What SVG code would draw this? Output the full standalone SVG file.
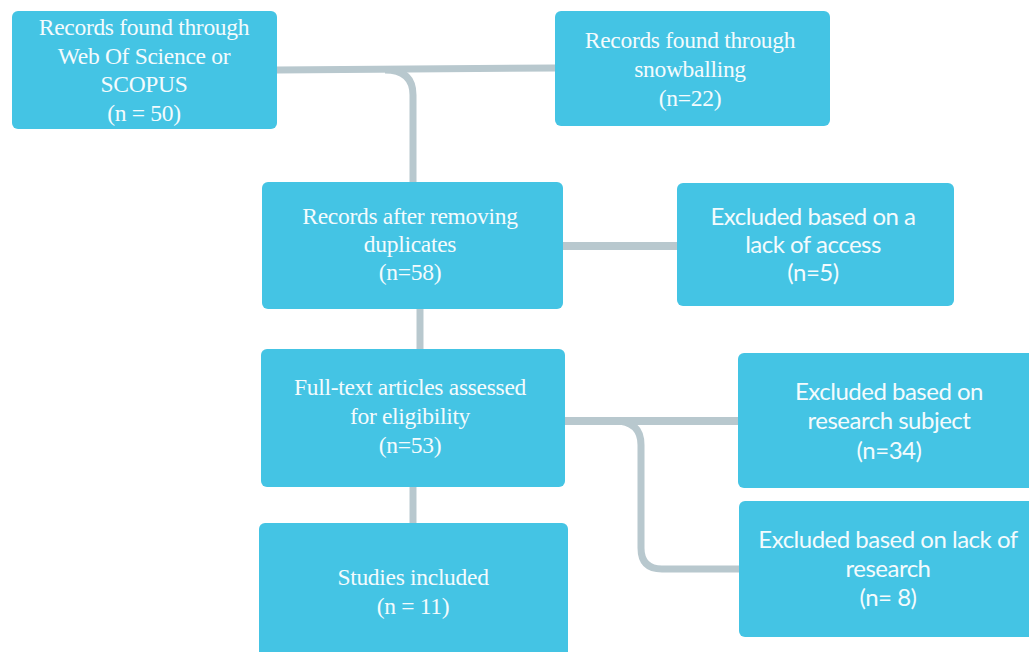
<svg xmlns="http://www.w3.org/2000/svg" width="1029" height="652" viewBox="0 0 1029 652">
<style>
.box{fill:#44c4e4;}
.s{font-family:"Liberation Serif","Times New Roman",serif;font-size:23.5px;fill:#f4fbfd;text-anchor:middle;letter-spacing:-0.3px;}
.l{font-family:Lato,"Liberation Sans",sans-serif;font-size:24px;fill:#f4fbfd;text-anchor:middle;letter-spacing:-0.5px;}
.c{fill:none;stroke:#b8c8ce;stroke-width:7;}
</style>
<rect width="1029" height="652" fill="#ffffff"/>
<g id="connectors">
<path class="c" d="M277 70 L555 68"/>
<path class="c" d="M385 70 Q413 70 413 95 L413 182"/>
<path class="c" d="M420 309 L420 349"/>
<path class="c" d="M563 246 L677 246" style="stroke-width:8"/>
<path class="c" d="M413 487 L413 523"/>
<path class="c" d="M565 421 L738 421" style="stroke-width:8"/>
<path class="c" d="M615 421 Q641 421 641 445 L641 548 Q641 569 662 569 L739 569"/>
</g>
<g id="n1"><rect class="box" x="12" y="11" width="265" height="118" rx="6"/>
<text class="s" x="144" y="35">Records found through</text>
<text class="s" x="144" y="64">Web Of Science or</text>
<text class="s" x="144" y="92">SCOPUS</text>
<text class="s" x="144" y="121">(n = 50)</text></g>
<g id="n2"><rect class="box" x="555" y="11" width="275" height="115" rx="6"/>
<text class="s" x="690" y="48">Records found through</text>
<text class="s" x="690" y="77">snowballing</text>
<text class="s" x="690" y="106">(n=22)</text></g>
<g id="n3"><rect class="box" x="262" y="182" width="301" height="127" rx="6"/>
<text class="s" x="410" y="224">Records after removing</text>
<text class="s" x="410" y="252">duplicates</text>
<text class="s" x="410" y="280">(n=58)</text></g>
<g id="n4"><rect class="box" x="677" y="183" width="277" height="123" rx="6"/>
<text class="l" x="813" y="225">Excluded based on a</text>
<text class="l" x="813" y="253">lack of access</text>
<text class="l" x="813" y="281">(n=5)</text></g>
<g id="n5"><rect class="box" x="261" y="349" width="304" height="138" rx="6"/>
<text class="s" x="410" y="395">Full-text articles assessed</text>
<text class="s" x="410" y="424">for eligibility</text>
<text class="s" x="410" y="453">(n=53)</text></g>
<g id="n6"><rect class="box" x="738" y="353" width="300" height="135" rx="6"/>
<text class="l" x="889" y="400">Excluded based on</text>
<text class="l" x="889" y="429">research subject</text>
<text class="l" x="889" y="459">(n=34)</text></g>
<g id="n7"><rect class="box" x="739" y="501" width="300" height="136" rx="6"/>
<text class="l" x="888" y="548">Excluded based on lack of</text>
<text class="l" x="888" y="577">research</text>
<text class="l" x="888" y="606">(n= 8)</text></g>
<g id="n8"><rect class="box" x="259" y="523" width="309" height="140" rx="6"/>
<text class="s" x="413" y="585">Studies included</text>
<text class="s" x="413" y="614">(n = 11)</text></g>
</svg>
